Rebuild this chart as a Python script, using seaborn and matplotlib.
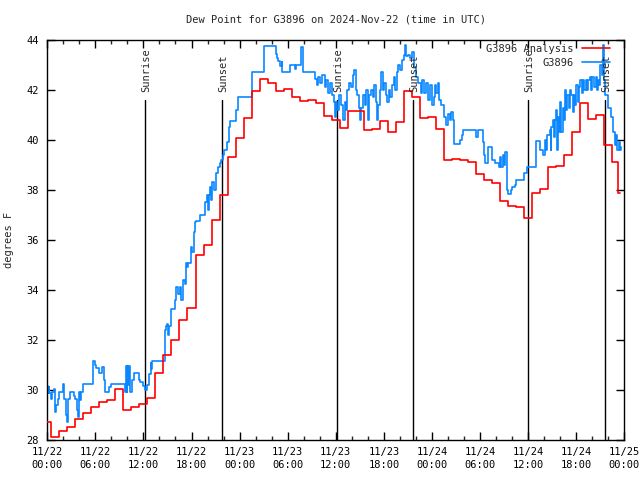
import matplotlib
matplotlib.use("Agg")
import matplotlib.pyplot as plt
import matplotlib.transforms as mtransforms
from matplotlib.ticker import MultipleLocator
import seaborn as sns
import pandas as pd

# ---------------- data ----------------
title = "Dew Point for G3896 on 2024-Nov-22 (time in UTC)"
ylabel = "degrees F"
series_names = ["G3896 Analysis", "G3896"]

x_tick_hours = [0, 6, 12, 18, 24, 30, 36, 42, 48, 54, 60, 66, 72]
x_tick_labels = ["11/22\n00:00", "11/22\n06:00", "11/22\n12:00", "11/22\n18:00",
                 "11/23\n00:00", "11/23\n06:00", "11/23\n12:00", "11/23\n18:00",
                 "11/24\n00:00", "11/24\n06:00", "11/24\n12:00", "11/24\n18:00",
                 "11/25\n00:00"]
y_ticks = [28, 30, 32, 34, 36, 38, 40, 42, 44]

sun_hours = [12.23, 21.83, 36.2, 45.62, 60.0, 69.6]
sun_labels = ["Sunrise", "Sunset", "Sunrise", "Sunset", "Sunrise", "Sunset"]

# analysis (hourly)
analysis_hours = list(range(0, 72)) + [71.5]
analysis_vals = [28.71, 28.13, 28.35, 28.51, 28.83, 29.07, 29.31, 29.51, 29.6, 30.03,
                 29.19, 29.31, 29.43, 29.67, 30.67, 31.4, 32.0, 32.8, 33.3, 35.4,
                 35.8, 36.8, 37.8, 39.3, 40.07, 40.87, 41.96, 42.44, 42.27, 41.96,
                 42.04, 41.73, 41.56, 41.6, 41.49, 40.96, 40.8, 40.47, 41.16, 41.16,
                 40.4, 40.42, 40.76, 40.33, 40.7, 41.96, 41.73, 40.89, 40.91, 40.43,
                 39.2, 39.23, 39.2, 39.13, 38.63, 38.4, 38.28, 37.57, 37.36, 37.31,
                 36.88, 37.87, 38.04, 38.9, 38.96, 39.4, 40.33, 41.47, 40.85, 41.0,
                 39.8, 39.12, 37.87]

# station observations
obs_hours = [0.0, 0.12, 0.2, 0.25, 0.42, 0.62, 0.85, 0.97, 1.1, 1.3, 1.45, 1.95, 2.15, 2.35, 2.43,
             2.62, 2.8, 3.33, 3.5, 3.67, 3.83, 4.0, 4.1, 4.25, 4.5, 5.75, 5.95, 6.1, 6.4, 6.85,
             7.05, 7.2, 7.75, 8.0, 9.7, 9.8, 9.9, 10.0, 10.1, 10.2, 10.3, 10.6, 10.8, 11.4, 11.6,
             12.0, 12.25, 12.5, 12.75, 12.9, 13.0, 13.1,
             14.65, 14.8, 14.95, 15.1, 15.25, 15.45, 16.0, 16.1, 16.3, 16.55, 16.75, 16.95, 17.15,
             17.35, 17.5, 17.6, 17.95, 18.1, 18.3, 18.45, 18.6, 19.1, 19.7, 19.9, 20.05, 20.15,
             20.25, 20.45, 20.6, 20.85, 21.0, 21.3, 21.5, 21.7, 21.9, 22.1, 22.4, 22.7, 22.85,
             23.6, 23.75,
             25.5, 27.0, 28.5, 28.65, 28.85, 29.1, 29.25, 29.35, 30.3, 30.9, 31.0, 31.7, 31.9,
             33.4, 33.6, 33.75, 34.0, 34.3, 34.6, 34.8, 35.0, 35.3, 35.5, 35.75, 35.9, 36.0, 36.2,
             36.45, 36.7, 36.9, 37.1, 37.3, 37.45, 37.7, 37.9, 38.1, 38.3, 38.5, 38.7, 38.9, 39.05,
             39.2, 39.45, 39.6, 39.8, 40.0, 40.15, 40.4, 40.6, 40.8, 41.0, 41.1, 41.3, 41.5, 41.7,
             41.85, 42.0, 42.2, 42.4, 42.6, 42.8, 43.0, 43.2, 43.4, 43.6, 43.8, 44.0, 44.2, 44.45,
             44.6, 44.75, 45.0, 45.3, 45.5, 45.8, 46.0, 46.3, 46.6, 46.8, 47.0, 47.3, 47.5, 47.7,
             48.0, 48.2, 48.4, 48.55, 48.7, 48.85, 49.1, 49.5, 49.8, 50.0, 50.2, 50.4, 50.6, 50.7,
             51.5, 51.7, 51.9, 53.55, 53.7, 54.4, 54.5, 54.6, 55.0, 55.5, 55.8, 56.3, 56.5, 56.6,
             56.8, 56.95, 57.1, 57.3, 57.4, 57.5, 57.8, 58.0, 58.3, 58.5, 59.5, 59.9,
             61.0, 61.5, 61.8, 62.1, 62.2, 62.3, 62.7, 62.8, 62.9, 63.1, 63.25, 63.4, 63.5, 63.6,
             63.7, 63.85, 64.0, 64.15, 64.3, 64.45, 64.6, 64.75, 64.9, 65.1, 65.25, 65.4, 65.55,
             65.7, 65.85, 66.0, 66.15, 66.3, 66.5, 66.65, 66.8, 67.0, 67.15, 67.3, 67.5, 67.7,
             67.85, 68.0, 68.2, 68.4, 68.55, 68.7, 68.85, 69.0, 69.2, 69.3, 69.45, 69.6, 70.0,
             70.3, 70.6, 70.8, 70.95, 71.1, 71.3, 71.45, 71.6]
obs_vals = [30.17, 29.87, 30.1, 29.87, 29.63, 29.9, 30.05, 29.13, 29.4, 29.63, 29.93, 30.24, 29.63, 29.0, 28.71,
            29.63, 29.93, 29.75, 29.63, 29.2, 28.93, 29.93, 29.6, 29.9, 30.24, 31.17, 31.0, 30.87, 30.67, 30.9,
            30.4, 29.93, 30.1, 30.24, 29.93, 30.95, 29.93, 30.95, 30.2, 30.95, 29.93, 30.4, 30.67, 30.4, 30.3,
            30.17, 30.0, 30.2, 30.64, 31.07, 30.85, 31.17,
            32.4, 32.55, 32.65, 32.2, 32.55, 33.23, 33.6, 34.13, 33.85, 34.13, 33.6, 34.4, 34.25,
            35.07, 34.9, 35.07, 35.73, 35.5, 36.3, 36.7, 36.75, 37.0, 37.53, 37.8, 37.2, 37.8,
            38.13, 37.6, 38.33, 38.0, 38.67, 38.9, 39.07, 39.2, 39.4, 39.6, 39.9, 40.5, 40.77,
            41.2, 41.73,
            42.73, 43.76, 43.45, 43.3, 43.15, 42.95, 43.1, 42.73, 43.0, 42.85, 43.0, 43.7, 42.73,
            42.45, 42.2, 42.5, 42.3, 42.6, 42.1, 42.4, 41.9, 42.3, 41.8, 41.5, 40.9, 41.5, 41.2,
            41.8, 41.4, 40.8, 41.5, 41.2, 42.0, 42.3, 42.1, 42.6, 42.8, 42.0, 41.8, 41.3, 40.8,
            41.3, 41.8, 41.4, 42.0, 40.8, 41.8, 42.0, 41.7, 42.2, 41.5, 40.8, 41.4, 42.0, 42.7,
            42.0, 42.3, 41.8, 41.5, 42.0, 41.7, 42.2, 42.5, 42.0, 42.7, 43.0, 42.8, 43.2, 43.4,
            43.8, 43.35, 43.4, 43.3, 43.5, 42.9, 42.5, 42.3, 41.9, 42.4, 41.9, 42.3, 41.6, 42.2,
            41.4, 41.7, 42.2, 41.9, 42.3, 41.6, 41.4, 40.9, 40.6, 41.05, 40.8, 41.1, 40.8, 39.84,
            40.0, 40.2, 40.4, 40.1, 40.4, 39.9, 39.4, 39.07, 39.73, 39.2, 39.07, 38.9, 39.3, 38.9,
            39.4, 39.0, 39.5, 38.5, 38.0, 37.85, 38.0, 38.1, 38.2, 38.4, 38.69, 38.93,
            39.95, 39.6, 39.4, 40.0, 39.6, 40.2, 40.4, 39.6, 40.5, 40.8, 40.1, 40.8, 41.2, 39.6,
            40.9, 40.3, 41.5, 40.3, 41.3, 40.8, 42.0, 41.2, 41.8, 41.3, 42.0, 41.8, 41.1,
            41.8, 41.4, 42.2, 41.5, 42.1, 42.4, 41.9, 42.4, 42.0, 42.4, 42.0, 42.4, 42.5,
            42.0, 42.5, 42.1, 42.5, 42.0, 42.4, 42.2, 43.0, 42.6, 43.8, 42.4, 41.8, 41.3,
            40.9, 40.3, 39.8, 40.2, 39.6, 39.9, 39.6, 39.7]

RED = "#ff0000"
BLUE = "#0a87ff"
FONT = ["DejaVu Sans Mono"]
FS = 7.5

sns.set_style("ticks")
plt.rcParams["font.family"] = FONT
plt.rcParams["font.size"] = FS

fig = plt.figure(figsize=(6.4, 4.8), dpi=100)
ax = fig.add_axes([47.2 / 640, 40 / 480, 577.2 / 640, 400 / 480])

# sunrise / sunset markers
btr = mtransforms.blended_transform_factory(ax.transData, ax.transAxes)
for h, lab in zip(sun_hours, sun_labels):
    ax.axvline(h, ymin=0, ymax=0.85, color="black", lw=1.0, zorder=1)
    ax.text(h + 0.12, 0.87, lab, rotation=90, ha="center", va="bottom",
            transform=btr, fontsize=FS, family=FONT, zorder=5)

df_a = pd.DataFrame({"hour": analysis_hours, "value": analysis_vals})
df_o = pd.DataFrame({"hour": obs_hours, "value": obs_vals})

sns.lineplot(data=df_a, x="hour", y="value", ax=ax, color=RED, lw=1.2,
             drawstyle="steps-mid", estimator=None, zorder=3)
sns.lineplot(data=df_o, x="hour", y="value", ax=ax, color=BLUE, lw=1.2,
             drawstyle="steps-post", estimator=None, zorder=2)

ax.set_xlim(0, 72)
ax.set_ylim(28, 44)
ax.set_xticks(x_tick_hours)
ax.set_xticklabels(x_tick_labels, linespacing=1.35)
ax.xaxis.set_minor_locator(MultipleLocator(2))
ax.set_yticks(y_ticks)
ax.set_yticklabels([str(v) for v in y_ticks])
ax.set_xlabel("")
ax.set_ylabel(ylabel, fontsize=FS)
ax.yaxis.set_label_coords(-0.057, 0.5)

for sp in ax.spines.values():
    sp.set_visible(True)
    sp.set_color("black")
    sp.set_linewidth(1.0)

ax.tick_params(axis="both", which="major", direction="in", length=6, width=1,
               top=True, right=True, labelsize=FS, colors="black")
ax.tick_params(axis="x", which="major", pad=5)
ax.tick_params(axis="y", which="major", pad=6)
ax.tick_params(axis="x", which="minor", direction="in", length=3, width=1,
               top=True, bottom=True)

fig.text(335.8 / 640, 1 - 19 / 480, title, ha="center", va="center",
         fontsize=FS, family=FONT)

lines = ax.get_lines()
data_lines = [l for l in lines if len(l.get_xdata()) > 2]
leg = ax.legend(handles=[data_lines[0], data_lines[1]], labels=series_names,
                loc="upper right", bbox_to_anchor=(0.975, 0.99), markerfirst=False,
                frameon=False, fontsize=FS, handlelength=2.7, handletextpad=0.8,
                labelspacing=0.35, borderpad=0, borderaxespad=0)
leg.set_zorder(10)

fig.savefig("out.png", dpi=100)
